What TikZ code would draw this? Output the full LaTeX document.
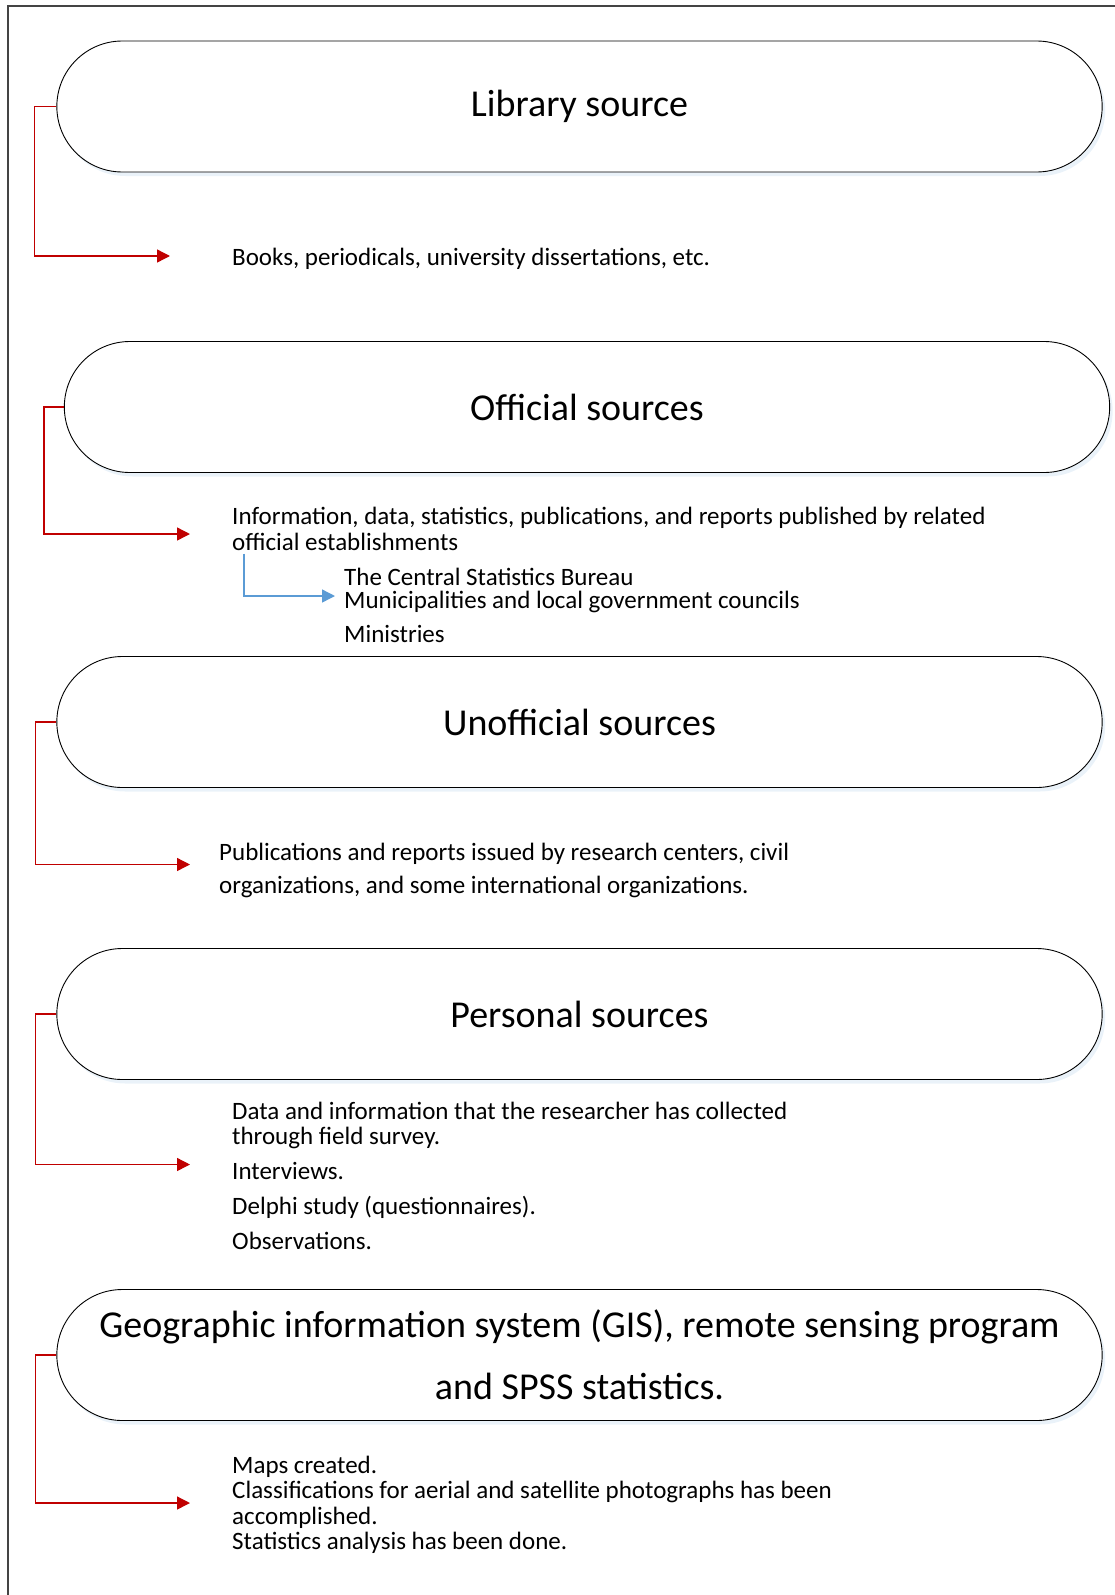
\documentclass[tikz,border=0pt]{standalone}
\usepackage{fontspec}
\setmainfont{Carlito}
\usetikzlibrary{arrows.meta,positioning,shapes.misc,shadows}

\definecolor{arrowred}{HTML}{C00000}
\definecolor{arrowblue}{HTML}{5B9BD5}
\definecolor{framegray}{HTML}{444444}

\begin{document}
\begin{tikzpicture}[
  x=1pt, y=-1pt,
  srcbox/.style={draw, rounded rectangle, line width=0.9pt, fill=white,
    minimum width=1052pt, minimum height=131pt, align=center,
    font=\fontsize{38}{62}\selectfont,
    drop shadow={shadow xshift=3pt, shadow yshift=-4pt, fill=arrowblue!25, opacity=0.5}},
  srctxt/.style={anchor=west, align=left, inner sep=0pt,
    font=\fontsize{25}{25.5}\selectfont},
  redarr/.style={-{Triangle[length=13pt,width=13pt]}, draw=arrowred, line width=1.4pt},
  bluearr/.style={-{Triangle[length=13pt,width=13pt]}, draw=arrowblue, line width=1.4pt}
]
\useasboundingbox (0,0) rectangle (1115,1595);

% frame
\draw[framegray, line width=2pt] (8,1595) -- (8,6) -- (1115,6);

% source boxes
\node[srcbox] (lib) at (579.5,106.5) {Library source};
\node[srcbox] (off) at (587,407) {Official sources};
\node[srcbox] (unoff) at (579.5,722) {Unofficial sources};
\node[srcbox] (pers) at (579.5,1014) {Personal sources};
\node[srcbox] (gis) at (579.5,1355) {Geographic information system (GIS), remote sensing program\\and SPSS statistics.};

% descriptions
\node[srctxt] (libtxt) at (232,259) {Books, periodicals, university dissertations, etc.};
\node[srctxt] (offtxt) at (232,529) {Information, data, statistics, publications, and reports published by related\\official establishments};
\node[srctxt] (cbs) at (344,577) {The Central Statistics Bureau};
\node[srctxt] (muni) at (344,602) {Municipalities and local government councils};
\node[srctxt] (mins) at (344,634) {Ministries};
\node[srctxt] (unofftxt) at (219,870.5) {Publications and reports issued by research centers, civil\\[7pt]organizations, and some international organizations.};
\node[srctxt] (perstxt) at (232,1175.5) {Data and information that the researcher has collected\\through field survey.\\[9pt]Interviews.\\[10pt]Delphi study (questionnaires).\\[9pt]Observations.};
\node[srctxt] (gistxt) at (232,1505) {Maps created.\\Classifications for aerial and satellite photographs has been\\accomplished.\\Statistics analysis has been done.};

\coordinate (offsub) at ([xshift=12pt,yshift=-3pt]offtxt.south west);

% connectors
\draw[redarr] (lib.west) -- ++(-22,0) |- ([xshift=-62pt,yshift=3pt]libtxt.west);
\draw[redarr] (off.west) -- ++(-20,0) |- ([xshift=-42pt,yshift=-5pt]offtxt.west);
\draw[bluearr] (offsub) |- ([xshift=-9pt,yshift=6pt]muni.west);
\draw[redarr] (unoff.west) -- ++(-21,0) |- ([xshift=-29pt,yshift=6pt]unofftxt.west);
\draw[redarr] (pers.west) -- ++(-21,0) |- ([xshift=-42pt,yshift=11pt]perstxt.west);
\draw[redarr] (gis.west) -- ++(-21,0) |- ([xshift=-42pt,yshift=2pt]gistxt.west);

\end{tikzpicture}
\end{document}
